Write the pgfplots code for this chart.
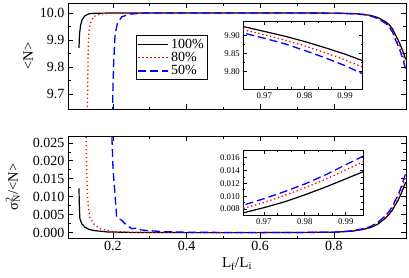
\documentclass[border=0pt]{standalone}
\usepackage{fontspec}
\setmainfont{Liberation Serif}
\usepackage{pgfplots}
\pgfplotsset{compat=1.18}
\usepackage{pgfplotstable}

\pgfplotstableread{
x y
0.1077 9.871
0.109 9.92
0.112 9.955
0.116 9.975
0.124 9.990
0.135 9.997
0.15 9.999
0.2 10.000
0.4 10.000
0.6 10.000
0.8 9.9995
0.85 9.998
0.88 9.995
0.90 9.991
0.92 9.983
0.94 9.968
0.95 9.957
0.96 9.940
0.965 9.925
0.97 9.912
0.975 9.899
0.98 9.884
0.985 9.867
0.99 9.849
0.995 9.828
}\NBlack
\pgfplotstableread{
x y
0.1295 9.40
0.131 9.70
0.1325 9.85
0.1345 9.93
0.138 9.960
0.147 9.986
0.165 9.996
0.2 10.0
0.4 10.0
0.6 10.0
0.8 9.9994
0.85 9.9975
0.88 9.9945
0.90 9.990
0.92 9.981
0.94 9.965
0.95 9.953
0.96 9.934
0.965 9.916
0.97 9.903
0.975 9.888
0.98 9.872
0.985 9.853
0.99 9.833
0.995 9.810
}\NRed
\pgfplotstableread{
x y
0.1985 9.40
0.1995 9.70
0.202 9.82
0.2057 9.92
0.212 9.962
0.224 9.986
0.247 9.996
0.29 10.0
0.4 10.0
0.6 10.0
0.8 9.9993
0.85 9.997
0.88 9.994
0.90 9.989
0.92 9.979
0.94 9.962
0.95 9.949
0.96 9.928
0.965 9.907
0.97 9.893
0.975 9.878
0.98 9.859
0.985 9.839
0.99 9.817
0.995 9.791
}\NBlue
\pgfplotstableread{
x y
0.1077 0.0123
0.1085 0.0080
0.110 0.0040
0.115 0.0025
0.124 0.0015
0.135 0.0009
0.147 0.0006
0.183 0.0002
0.25 0.00005
0.4 0.0
0.6 0.0
0.8 0.0001
0.85 0.0004
0.88 0.0009
0.90 0.0014
0.92 0.0024
0.94 0.0040
0.95 0.0051
0.96 0.0064
0.965 0.0074
0.97 0.0082
0.975 0.0091
0.98 0.0102
0.985 0.0114
0.99 0.0127
0.995 0.0140
}\VBlack
\pgfplotstableread{
x y
0.1265 0.030
0.128 0.020
0.130 0.012
0.133 0.0070
0.137 0.0043
0.147 0.0025
0.165 0.0011
0.20 0.0003
0.25 0.0001
0.4 0.0
0.6 0.0
0.8 0.0001
0.85 0.0005
0.88 0.0010
0.90 0.0016
0.92 0.0027
0.94 0.0044
0.95 0.0056
0.96 0.0070
0.965 0.0081
0.97 0.0090
0.975 0.0101
0.98 0.0113
0.985 0.0126
0.99 0.0141
0.995 0.0156
}\VRed
\pgfplotstableread{
x y
0.196 0.030
0.197 0.027
0.200 0.018
0.206 0.0099
0.210 0.0043
0.224 0.0034
0.2376 0.0020
0.251 0.0011
0.262 0.0012
0.272 0.0008
0.292 0.0006
0.33 0.0003
0.4 0.0001
0.6 0.0
0.8 0.0001
0.85 0.0005
0.88 0.0011
0.90 0.0017
0.92 0.0029
0.94 0.0047
0.95 0.0059
0.96 0.0074
0.965 0.0086
0.97 0.0096
0.975 0.0107
0.98 0.0119
0.985 0.0133
0.99 0.0149
0.995 0.0165
}\VBlue

\pgfplotsset{
  xmg/.style={
    scale only axis,
    axis line style={line width=0.8pt},
    tick align=inside,
    tick style={black, line width=0.6pt},
    major tick length=5pt,
    minor tick length=2.5pt,
    scaled ticks=false,
    /pgf/number format/assume math mode=true,
    clip=true,
  },
  s100/.style={black, line width=1.2pt},
  s80/.style={red, line width=1.3pt, dash pattern=on 1.3pt off 2.7pt},
  s50/.style={blue, line width=1.3pt, dash pattern=on 8pt off 4pt},
}

\begin{document}
\begin{tikzpicture}
\path[use as bounding box] (0,0) rectangle (409pt,277pt);

% ---------- top main ----------
\begin{axis}[xmg,
  at={(68pt,168pt)}, anchor=south west,
  width=338pt, height=106pt,
  xmin=0.0778, xmax=0.996,
  ymin=9.644, ymax=10.037,
  xtick={0.2,0.4,0.6,0.8}, minor x tick num=1,
  xticklabels={},
  ytick={9.7,9.8,9.9,10.0}, minor y tick num=1,
  yticklabel style={font=\fontsize{14}{16}\selectfont, /pgf/number format/.cd, fixed, fixed zerofill, precision=1},
  ylabel={<N>},
  every axis y label/.style={at={(axis description cs:-0.118,0.5)}, rotate=90, anchor=center, font=\fontsize{14.5}{16}\selectfont},
  legend style={at={(rel axis cs:0.201,0.698)}, anchor=north west, draw=black, line width=0.8pt,
     font=\fontsize{14}{14}\selectfont, inner sep=1.5pt, row sep=-1.5pt, fill=white},
  legend cell align=left,
  legend image code/.code={\draw[#1] (0pt,0pt) -- (30pt,0pt);},
]
\addplot[s100] table {\NBlack};
\addplot[s80] table {\NRed};
\addplot[s50] table {\NBlue};
\legend{100\%,80\%,50\%}
\end{axis}

% ---------- top inset ----------
\begin{axis}[xmg,
  at={(243.3pt,188pt)}, anchor=south west,
  width=119.4pt, height=68pt,
  axis background/.style={fill=white},
  axis line style={line width=0.6pt},
  major tick length=3.5pt, minor tick length=2pt,
  xmin=0.9648, xmax=0.9944,
  ymin=9.752, ymax=9.941,
  xtick={0.97,0.98,0.99}, minor x tick num=2,
  ytick={9.80,9.85,9.90}, minor y tick num=1,
  ticklabel style={font=\fontsize{8.8}{10}\selectfont},
  xticklabel style={/pgf/number format/.cd, fixed, fixed zerofill, precision=2},
  yticklabel style={/pgf/number format/.cd, fixed, fixed zerofill, precision=2},
]
\addplot[s100] table {\NBlack};
\addplot[s80] table {\NRed};
\addplot[s50] table {\NBlue};
\end{axis}

% ---------- bottom main ----------
\begin{axis}[xmg,
  at={(68pt,39pt)}, anchor=south west,
  width=338pt, height=102pt,
  xmin=0.0778, xmax=0.996,
  ymin=-0.0015, ymax=0.0269,
  xtick={0.2,0.4,0.6,0.8}, minor x tick num=1,
  ytick={0,0.005,0.010,0.015,0.020,0.025}, minor y tick num=1,
  ticklabel style={font=\fontsize{14}{16}\selectfont},
  xticklabel style={/pgf/number format/.cd, fixed, fixed zerofill, precision=1},
  yticklabel style={/pgf/number format/.cd, fixed, fixed zerofill, precision=3},
  xlabel={L\textsubscript{f}/L\textsubscript{i}},
  xlabel style={font=\fontsize{15}{16}\selectfont},
  ylabel={σ\rlap{\textsuperscript{2}}\textsubscript{N}/<N>},
  every axis y label/.style={at={(axis description cs:-0.163,0.5)}, rotate=90, anchor=center, font=\fontsize{14.5}{16}\selectfont},
]
\addplot[s100] table {\VBlack};
\addplot[s80] table {\VRed};
\addplot[s50] table {\VBlue};
\end{axis}

% ---------- bottom inset ----------
\begin{axis}[xmg,
  at={(243.3pt,62pt)}, anchor=south west,
  width=120pt, height=65pt,
  axis background/.style={fill=white},
  axis line style={line width=0.6pt},
  major tick length=3.5pt, minor tick length=2pt,
  xmin=0.965, xmax=0.9943,
  ymin=0.00706, ymax=0.0172,
  xtick={0.97,0.98,0.99}, minor x tick num=2,
  ytick={0.008,0.010,0.012,0.014,0.016}, minor y tick num=1,
  ticklabel style={font=\fontsize{8.8}{10}\selectfont},
  xticklabel style={/pgf/number format/.cd, fixed, fixed zerofill, precision=2},
  yticklabel style={/pgf/number format/.cd, fixed, fixed zerofill, precision=3},
]
\addplot[s100] table {\VBlack};
\addplot[s80] table {\VRed};
\addplot[s50] table {\VBlue};
\end{axis}
\end{tikzpicture}
\end{document}
